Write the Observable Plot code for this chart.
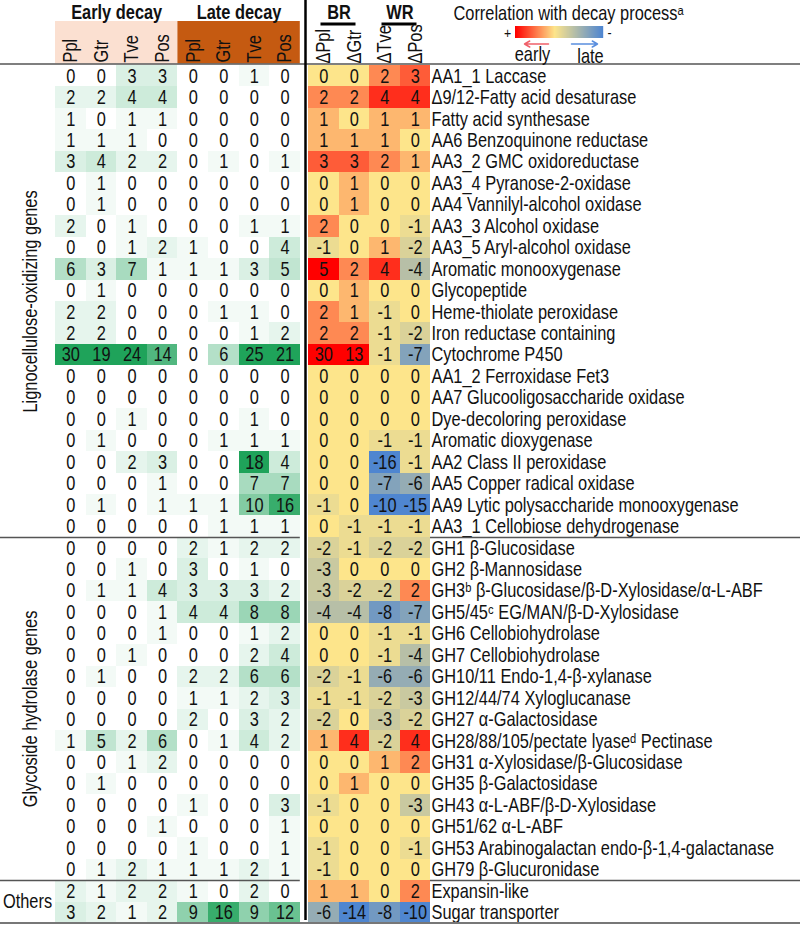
<!DOCTYPE html>
<html><head><meta charset="utf-8">
<script src="https://cdn.jsdelivr.net/npm/d3@7"></script>
<script src="https://cdn.jsdelivr.net/npm/@observablehq/plot@0.6"></script>
<style>body{margin:0;background:#fff}</style>
</head><body><div id="chart"></div>
<script>
// ---------------- DATA ----------------
const genes = [
  "AA1_1 Laccase","\u03949/12-Fatty acid desaturase","Fatty acid synthesase","AA6 Benzoquinone reductase",
  "AA3_2 GMC oxidoreductase","AA3_4 Pyranose-2-oxidase","AA4 Vannilyl-alcohol oxidase","AA3_3 Alcohol oxidase",
  "AA3_5 Aryl-alcohol oxidase","Aromatic monooxygenase","Glycopeptide","Heme-thiolate peroxidase",
  "Iron reductase containing","Cytochrome P450","AA1_2 Ferroxidase Fet3","AA7 Glucooligosaccharide oxidase",
  "Dye-decoloring peroxidase","Aromatic dioxygenase","AA2 Class II peroxidase","AA5 Copper radical oxidase",
  "AA9 Lytic polysaccharide monooxygenase","AA3_1 Cellobiose dehydrogenase",
  "GH1 \u03b2-Glucosidase","GH2 \u03b2-Mannosidase","GH3\u1d47 \u03b2-Glucosidase/\u03b2-D-Xylosidase/\u03b1-L-ABF",
  "GH5/45\u1d9c EG/MAN/\u03b2-D-Xylosidase","GH6 Cellobiohydrolase","GH7 Cellobiohydrolase",
  "GH10/11 Endo-1,4-\u03b2-xylanase","GH12/44/74 Xyloglucanase","GH27 \u03b1-Galactosidase",
  "GH28/88/105/pectate lyase\u1d48 Pectinase","GH31 \u03b1-Xylosidase/\u03b2-Glucosidase","GH35 \u03b2-Galactosidase",
  "GH43 \u03b1-L-ABF/\u03b2-D-Xylosidase","GH51/62 \u03b1-L-ABF","GH53 Arabinogalactan endo-\u03b2-1,4-galactanase",
  "GH79 \u03b2-Glucuronidase","Expansin-like","Sugar transporter"
];
const sectionNames = ["Lignocellulose-oxidizing genes","Glycoside hydrolase genes","Others"];
const sectionSizes = [22, 16, 2];
const species = ["Ppl","Gtr","Tve","Pos"];
const stages = ["Early decay","Late decay"];
const rotTypes = ["BR","WR"];
// early decay counts: Ppl, Gtr, Tve, Pos
const earlyCounts = [
  [0,0,3,3],[2,2,4,4],[1,0,1,1],[1,1,1,0],[3,4,2,2],[0,1,0,0],[0,1,0,0],[2,0,1,0],[0,0,1,2],[6,3,7,1],
  [0,1,0,0],[2,2,0,0],[2,2,0,0],[30,19,24,14],[0,0,0,0],[0,0,0,0],[0,0,1,0],[0,1,0,0],[0,0,2,3],[0,0,0,1],
  [0,1,0,1],[0,0,0,0],
  [0,0,0,0],[0,0,1,0],[0,1,1,4],[0,0,0,1],[0,0,0,1],[0,0,1,0],[0,1,0,0],[0,0,0,0],[0,0,0,0],[1,5,2,6],
  [0,0,1,2],[0,1,0,0],[0,0,0,0],[0,0,0,1],[0,0,0,0],[0,1,2,1],
  [2,1,2,2],[3,2,1,2]
];
// late decay counts: Ppl, Gtr, Tve, Pos
const lateCounts = [
  [0,0,1,0],[0,0,0,0],[0,0,0,0],[0,0,0,0],[0,1,0,1],[0,0,0,0],[0,0,0,0],[0,0,1,1],[1,0,0,4],[1,1,3,5],
  [0,0,0,0],[0,1,1,0],[0,0,1,2],[0,6,25,21],[0,0,0,0],[0,0,0,0],[0,0,1,0],[0,1,1,1],[0,0,18,4],[0,0,7,7],
  [1,1,10,16],[0,1,1,1],
  [2,1,2,2],[3,0,1,0],[3,3,3,2],[4,4,8,8],[0,0,1,2],[0,0,2,4],[2,2,6,6],[1,1,2,3],[2,0,3,2],[0,1,4,2],
  [0,0,0,0],[0,0,0,0],[1,0,0,3],[0,0,0,1],[1,0,0,1],[1,1,2,1],
  [1,0,2,0],[9,16,9,12]
];
// difference (early - late): ΔPpl, ΔGtr, ΔTve, ΔPos
const deltaCounts = [
  [0,0,2,3],[2,2,4,4],[1,0,1,1],[1,1,1,0],[3,3,2,1],[0,1,0,0],[0,1,0,0],[2,0,0,-1],[-1,0,1,-2],[5,2,4,-4],
  [0,1,0,0],[2,1,-1,0],[2,2,-1,-2],[30,13,-1,-7],[0,0,0,0],[0,0,0,0],[0,0,0,0],[0,0,-1,-1],[0,0,-16,-1],[0,0,-7,-6],
  [-1,0,-10,-15],[0,-1,-1,-1],
  [-2,-1,-2,-2],[-3,0,0,0],[-3,-2,-2,2],[-4,-4,-8,-7],[0,0,-1,-1],[0,0,-1,-4],[-2,-1,-6,-6],[-1,-1,-2,-3],[-2,0,-3,-2],[1,4,-2,4],
  [0,0,1,2],[0,1,0,0],[-1,0,0,-3],[0,0,0,0],[-1,0,0,-1],[-1,0,0,0],
  [1,1,0,2],[-6,-14,-8,-10]
];

// ---------------- LAYOUT & STYLE ----------------
const W = 800, H = 925;
const FONT = '"Liberation Sans",Arial,sans-serif';
const FS = 20;
const NARROW = 0.82; // horizontal condensing of the glyphs, as in the reference
const leftX0 = 55, leftCW = 30.6;
const rightX0 = 308, rightCW = 30.5;
const labelX = 431;
const top0 = 65, rowH = 21.45;
const sepX = 305;
const headerY = 63.5;
const rowTop = i => top0 + i * rowH;

const green = d3.scaleLinear().domain([0, 18]).range(["#ffffff", "#1fa35a"]).clamp(true);
const diverge = d3.scaleLinear().domain([-10, 0, 5]).range(["#4f86d0", "#fde58b", "#ff0000"]).clamp(true);

const leftCells = genes.flatMap((g, i) => [...earlyCounts[i], ...lateCounts[i]].map((v, j) => ({i, j, v})));
const rightCells = genes.flatMap((g, i) => deltaCounts[i].map((v, j) => ({i, j, v})));

const leftHeaders = stages.flatMap((s, k) => species.map((sp, j) => ({k, j: k * 4 + j, label: sp})));
const rightHeaders = species.map((sp, j) => ({j, label: "\u0394" + sp}));

const sectionStarts = sectionSizes.map((s, k) => d3.sum(sectionSizes.slice(0, k)));
const sections = sectionNames.map((name, k) => ({name, start: sectionStarts[k], size: sectionSizes[k]}));
const boundaries = sectionStarts.slice(1);

// legend ramp
const N = 88, rampX0 = 515, rampY1 = 26, rampY2 = 38;
const legendVal = t => t < 0.45 ? 5 * (1 - t / 0.45) : -10 * (t - 0.45) / 0.55;
const ramp = d3.range(N);

const txt = {fontFamily: FONT, fontSize: FS, fill: "#111"};

const chart = Plot.plot({
  width: W, height: H,
  marginTop: 0, marginRight: 0, marginBottom: 0, marginLeft: 0,
  x: {type: "identity", axis: null},
  y: {type: "identity", axis: null},
  color: {type: "identity"},
  style: {background: "#fff"},
  marks: [
    // stage header backgrounds
    Plot.rect(stages, {x1: (d, k) => leftX0 + k * 4 * leftCW, x2: (d, k) => leftX0 + (k + 1) * 4 * leftCW,
      y1: 21, y2: headerY, fill: (d, k) => k === 0 ? "#fbe0d1" : "#c55a11"}),
    // count cells
    Plot.rect(leftCells, {x1: d => leftX0 + d.j * leftCW, x2: d => leftX0 + (d.j + 1) * leftCW,
      y1: d => rowTop(d.i), y2: d => rowTop(d.i + 1), fill: d => green(d.v), shapeRendering: "crispEdges"}),
    // delta cells
    Plot.rect(rightCells, {x1: d => rightX0 + d.j * rightCW, x2: d => rightX0 + (d.j + 1) * rightCW,
      y1: d => rowTop(d.i), y2: d => rowTop(d.i + 1), fill: d => diverge(d.v), shapeRendering: "crispEdges"}),
    // cell numbers
    Plot.text(leftCells, {x: d => leftX0 + (d.j + 0.5) * leftCW, y: d => rowTop(d.i + 0.5), text: d => String(d.v), ...txt}),
    Plot.text(rightCells, {x: d => rightX0 + (d.j + 0.5) * rightCW, y: d => rowTop(d.i + 0.5), text: d => String(d.v), ...txt}),
    // gene labels
    Plot.text(genes, {x: labelX, y: (d, i) => rowTop(i + 0.5), text: d => d, textAnchor: "start", ...txt}),
    // section labels
    Plot.text(sections.filter(s => s.size > 2), {x: 30, y: s => rowTop(s.start + s.size / 2), text: "name", rotate: -90, ...txt}),
    Plot.text(sections.filter(s => s.size <= 2), {x: 27, y: s => rowTop(s.start + s.size / 2), text: "name", ...txt}),
    // lines
    Plot.ruleY([headerY], {x1: 0, x2: W, stroke: "#555", strokeWidth: 1.5}),
    Plot.ruleY(boundaries, {y: b => rowTop(b), x1: 0, x2: leftX0 + 8 * leftCW, stroke: "#555", strokeWidth: 1.5}),
    Plot.ruleY(boundaries, {y: b => rowTop(b), x1: rightX0 + 4 * rightCW, x2: W, stroke: "#555", strokeWidth: 1.5}),
    Plot.ruleY([genes.length], {y: b => rowTop(b) - 0.5, x1: 0, x2: W, stroke: "#777", strokeWidth: 2}),
    Plot.ruleX([sepX], {y1: 0, y2: rowTop(genes.length) - 3, stroke: "#000", strokeWidth: 2.5}),
    // stage titles
    Plot.text(stages, {x: (d, k) => leftX0 + (k * 4 + 2) * leftCW, y: 12, text: d => d, ...txt, fontWeight: "bold"}),
    // column headers
    Plot.text(leftHeaders, {x: d => leftX0 + (d.j + 0.5) * leftCW, y: 62, text: "label", rotate: -90,
      textAnchor: "start", lineAnchor: "middle", ...txt}),
    Plot.text(rightHeaders, {x: d => rightX0 + (d.j + 0.5) * rightCW, y: 63, text: "label", rotate: -90,
      textAnchor: "start", lineAnchor: "middle", ...txt}),
    // BR / WR
    Plot.text(rotTypes, {x: (d, k) => rightX0 + (k * 2 + 1) * rightCW, y: 12, text: d => d, ...txt, fontWeight: "bold"}),
    Plot.ruleY(rotTypes, {y: 23.5, x1: (d, k) => rightX0 + (k * 2 + 1) * rightCW - 18, x2: (d, k) => rightX0 + (k * 2 + 1) * rightCW + 17,
      stroke: "#000", strokeWidth: 3}),
    // legend
    Plot.text(["Correlation with decay process\u1d43"], {x: 568, y: 13, text: d => d, ...txt}),
    Plot.rect(ramp, {x1: i => rampX0 + i, x2: i => rampX0 + i + 1.2, y1: rampY1, y2: rampY2,
      fill: i => diverge(legendVal(i / (N - 1)))}),
    Plot.text(["+"], {x: rampX0 - 8, y: 33, text: d => d, ...txt, fontSize: 15}),
    Plot.text(["-"], {x: rampX0 + N + 6, y: 33, text: d => d, ...txt, fontSize: 15}),
    Plot.arrow([0], {x1: 548, x2: 524, y1: 43.5, y2: 43.5, stroke: "#f0606a", strokeWidth: 1.5, headLength: 6}),
    Plot.arrow([0], {x1: 571, x2: 597, y1: 43.5, y2: 43.5, stroke: "#5a8ede", strokeWidth: 1.5, headLength: 6}),
    Plot.text(["early"], {x: 532, y: 54, text: d => d, ...txt}),
    Plot.text(["late"], {x: 590, y: 56, text: d => d, ...txt})
  ]
});

// condense glyphs horizontally (along the text direction) around each text's own anchor
d3.select(chart).selectAll("text").each(function () {
  const t = this.getAttribute("transform");
  if (t) {
    this.setAttribute("transform", t + ` scale(${NARROW},1)`);
  } else {
    const x = +this.getAttribute("x") || 0, y = +this.getAttribute("y") || 0;
    this.removeAttribute("x"); this.removeAttribute("y");
    this.setAttribute("transform", `translate(${x},${y}) scale(${NARROW},1)`);
  }
});
document.getElementById("chart").append(chart);
</script>
</body></html>
